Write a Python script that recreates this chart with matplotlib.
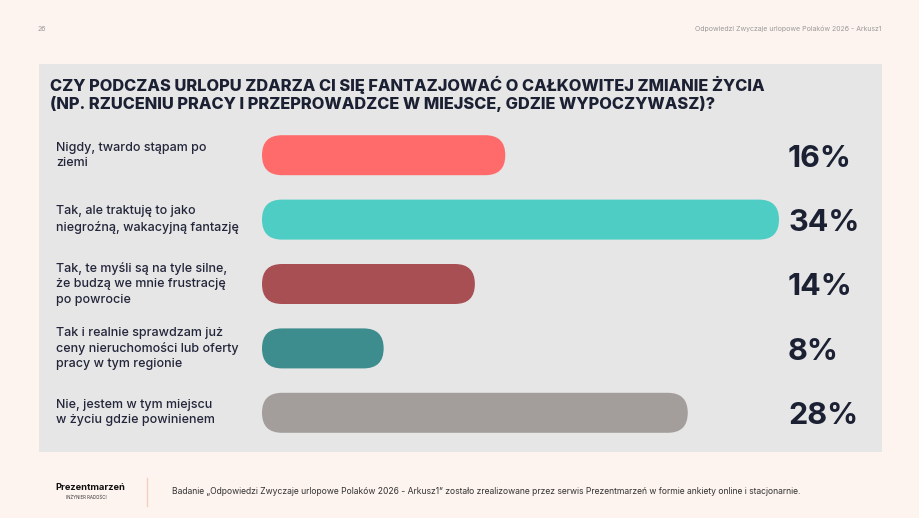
import matplotlib
matplotlib.use("Agg")
import matplotlib.pyplot as plt
from matplotlib.patches import FancyBboxPatch, Rectangle
from matplotlib.lines import Line2D
import matplotlib.transforms as mtransforms

# ---------------- data ----------------
title_lines = [
    "CZY PODCZAS URLOPU ZDARZA CI SIĘ FANTAZJOWAĆ O CAŁKOWITEJ ZMIANIE ŻYCIA",
    "(NP. RZUCENIU PRACY I PRZEPROWADZCE W MIEJSCE, GDZIE WYPOCZYWASZ)?",
]
categories = [
    "Nigdy, twardo stąpam po\nziemi",
    "Tak, ale traktuję to jako\nniegroźną, wakacyjną fantazję",
    "Tak, te myśli są na tyle silne,\nże budzą we mnie frustrację\npo powrocie",
    "Tak i realnie sprawdzam już\nceny nieruchomości lub oferty\npracy w tym regionie",
    "Nie, jestem w tym miejscu\nw życiu gdzie powinienem",
]
values = [16, 34, 14, 8, 28]
colors = ["#FF6B6B", "#4ECDC4", "#A84F54", "#3D8C8E", "#A39E9B"]
page_number = "26"
header_right = "Odpowiedzi Zwyczaje urlopowe Polaków 2026 - Arkusz1"
footer_text = ("Badanie „Odpowiedzi Zwyczaje urlopowe Polaków 2026 - Arkusz1\u201d zostało "
               "zrealizowane przez serwis Prezentmarzeń w formie ankiety online i stacjonarnie.")
logo_text = "Prezentmarzeń"
logo_sub = "INŻYNIER RADOŚCI"

# ---------------- layout ----------------
W, H = 920, 518
DPI = 100
BG = "#FEF4EF"
PANEL = "#E6E6E6"
DARK = "#1B2033"

plt.rcParams["font.family"] = ["Inter", "DejaVu Sans"]

fig = plt.figure(figsize=(W / DPI, H / DPI), dpi=DPI, facecolor=BG)

def fx(px):
    return px / W

def fy(py):
    return 1 - py / H

# gray panel
fig.patches.append(Rectangle((fx(39), fy(452)), fx(882) - fx(39), fy(64) - fy(452),
                             transform=fig.transFigure, facecolor=PANEL, edgecolor="none", zorder=-5))

# header
fig.text(fx(38), fy(29), page_number, fontsize=5, color="#9A9A9A", va="center", ha="left")
fig.text(fx(882), fy(29), header_right, fontsize=5, color="#9A9A9A", va="center", ha="right")

# title
fig.text(fx(50), fy(85), title_lines[0], fontsize=11.8, fontweight="heavy", color=DARK, va="center", ha="left")
fig.text(fx(50), fy(104), title_lines[1], fontsize=11.8, fontweight="heavy", color=DARK, va="center", ha="left")

# bars axes: x 0..40 over pixels 262..870, y rows centered at 155..413
ax_left, ax_right = 262, 262 + 40 * (517 / 34)
ax_top, ax_bot = 123, 445
ax = fig.add_axes([fx(ax_left), fy(ax_bot), fx(ax_right) - fx(ax_left), fy(ax_top) - fy(ax_bot)])
ax.set_zorder(1)
ax.set_xlim(0, 40)
n = len(values)
ax.set_ylim(n - 0.5, -0.5)
ax.axis("off")
ax.patch.set_alpha(0)

px_per_x = (ax_right - ax_left) / 40
px_per_y = (ax_bot - ax_top) / n
bar_h = 40 / px_per_y
aspect = px_per_x / px_per_y
radius = 20 / px_per_x
label_drop = 11.5 / px_per_y

for i, (v, c) in enumerate(zip(values, colors)):
    ax.add_patch(FancyBboxPatch((0, i - bar_h / 2), v, bar_h,
                                boxstyle=f"round,pad=0,rounding_size={radius}",
                                mutation_aspect=aspect, facecolor=c, edgecolor="none"))

trans = mtransforms.blended_transform_factory(fig.transFigure, ax.transData)
for i, (lab, v) in enumerate(zip(categories, values)):
    ax.text(fx(56), i, lab, transform=trans, fontsize=9, fontweight="medium", color="#23263A",
            va="center", ha="left", linespacing=1.35, clip_on=False)
    ax.text(fx(788), i + label_drop, f"{v}%", transform=trans, fontsize=22, fontweight="bold",
            color=DARK, va="baseline", ha="left", clip_on=False)

# footer
fig.text(fx(55), fy(488), logo_text, fontsize=6.7, fontweight="bold", color="#111111", va="center", ha="left")
fig.text(fx(86), fy(497), logo_sub, fontsize=3.2, color="#333333", va="center", ha="center")
fig.add_artist(Line2D([fx(147), fx(147)], [fy(478), fy(506)], transform=fig.transFigure,
                      color="#F5CFC4", linewidth=1))
fig.text(fx(172), fy(491), footer_text, fontsize=6.2, color="#333333", va="center", ha="left")

fig.savefig("out.png", dpi=DPI, facecolor=BG)
